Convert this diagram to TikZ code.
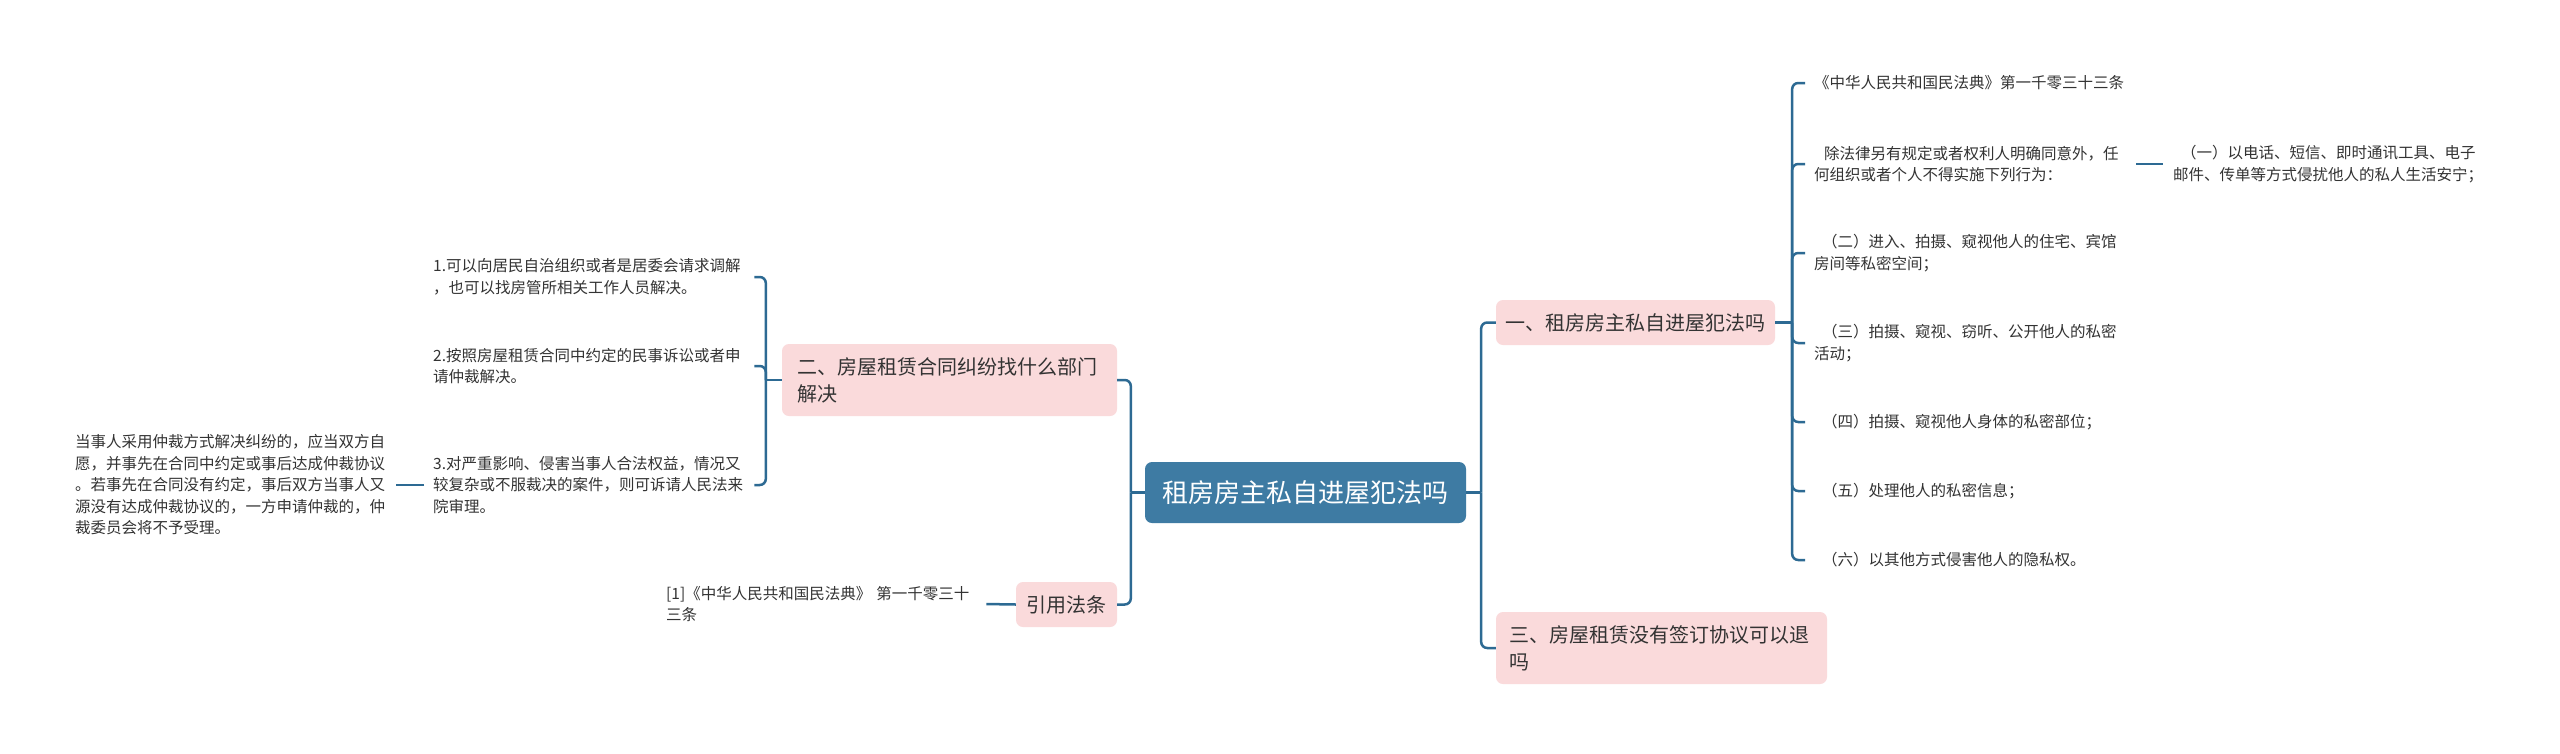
\documentclass[tikz,border=0pt]{standalone}
\usepackage{fontspec}
\setmainfont{Noto Sans CJK SC}
\definecolor{cblue}{HTML}{3E7BA3}
\definecolor{cline}{HTML}{2D6A93}
\definecolor{cpink}{HTML}{FADADB}
\definecolor{ctext}{HTML}{333333}
\begin{document}
\begin{tikzpicture}[x=1pt,y=-1pt,
  rootbox/.style={fill=cblue, rounded corners=7pt, text=white, font=\fontsize{26}{30}\selectfont, minimum width=321pt, minimum height=61pt, inner sep=0pt},
  topicbox/.style={fill=cpink, rounded corners=7pt, text=ctext, font=\fontsize{20}{27}\selectfont, inner sep=0pt, align=left},
  leafbox/.style={text=ctext, font=\fontsize{15.5}{21.5}\selectfont, text width=318pt, align=left, inner sep=0pt},
  conn/.style={draw=cline, line width=2.5pt, rounded corners=6pt}]
\useasboundingbox (0,0) rectangle (2560,753);
\fill[white] (0,0) rectangle (2560,753);

% root
\node[rootbox] (c) at (1305.5,492.5) {租房房主私自进屋犯法吗};

% right topics
\node[topicbox, minimum width=279pt, minimum height=45pt] (n1) at (1635.5,322.5) {一、租房房主私自进屋犯法吗};
\node[topicbox, text width=305pt, minimum width=331pt, minimum height=72pt] (n3) at (1661.5,648) {三、房屋租赁没有签订协议可以退\\吗};

% left topics
\node[topicbox, text width=305pt, minimum width=335pt, minimum height=72pt] (n2) at (949.5,380) {二、房屋租赁合同纠纷找什么部门\\解决};
\node[topicbox, minimum width=101pt, minimum height=45pt] (q) at (1066.5,604.5) {引用法条};

% right leaves
\node[leafbox, anchor=west] (r1) at (1814,83) {《中华人民共和国民法典》第一千零三十三条};
\node[leafbox, anchor=west] (r2) at (1814,164) {\hspace*{10pt}除法律另有规定或者权利人明确同意外，任\\何组织或者个人不得实施下列行为：};
\node[leafbox, anchor=west] (r2c) at (2173,164) {\hspace*{8pt}（一）以电话、短信、即时通讯工具、电子\\邮件、传单等方式侵扰他人的私人生活安宁；};
\node[leafbox, anchor=west] (r3) at (1814,253) {\hspace*{8pt}（二）进入、拍摄、窥视他人的住宅、宾馆\\房间等私密空间；};
\node[leafbox, anchor=west] (r4) at (1814,343) {\hspace*{8pt}（三）拍摄、窥视、窃听、公开他人的私密\\活动；};
\node[leafbox, anchor=west] (r5) at (1814,422) {\hspace*{8pt}（四）拍摄、窥视他人身体的私密部位；};
\node[leafbox, anchor=west] (r6) at (1814,491) {\hspace*{8pt}（五）处理他人的私密信息；};
\node[leafbox, anchor=west] (r7) at (1814,560) {\hspace*{8pt}（六）以其他方式侵害他人的隐私权。};

% left leaves
\node[leafbox, anchor=west] (l1) at (433,277) {1.可以向居民自治组织或者是居委会请求调解\\，也可以找房管所相关工作人员解决。};
\node[leafbox, anchor=west] (l2) at (433,366) {2.按照房屋租赁合同中约定的民事诉讼或者申\\请仲裁解决。};
\node[leafbox, anchor=west] (l3) at (433,485) {3.对严重影响、侵害当事人合法权益，情况又\\较复杂或不服裁决的案件，则可诉请人民法来\\院审理。};
\node[leafbox, anchor=west] (l3c) at (75,485) {当事人采用仲裁方式解决纠纷的，应当双方自\\愿，并事先在合同中约定或事后达成仲裁协议\\。若事先在合同没有约定，事后双方当事人又\\源没有达成仲裁协议的，一方申请仲裁的，仲\\裁委员会将不予受理。};
\node[leafbox, anchor=west] (qc) at (666,604) {[1]《中华人民共和国民法典》 第一千零三十\\三条};

% connectors: right side
\coordinate (rt) at ([xshift=15pt]c.east);
\draw[conn] (c.east) -- (rt);
\draw[conn] (rt) |- (n1.west);
\draw[conn] (rt) |- (n3.west);

\coordinate (t1) at ([xshift=17pt]n1.east);
\draw[conn] (n1.east) -- (t1);
\foreach \n in {r1,r2,r3,r4,r5,r6,r7}
  \draw[conn, shorten >=9pt] (t1) |- (\n.west);
\draw[conn, shorten <=4pt, shorten >=10pt] (r2.east) -- (r2c.west);

% connectors: left side
\coordinate (lt) at ([xshift=-14pt]c.west);
\draw[conn] (c.west) -- (lt);
\draw[conn] (lt) |- (n2.east);
\draw[conn] (lt) |- (q.east);

\coordinate (t2) at ([xshift=-16pt]n2.west);
\draw[conn] (n2.west) -- (t2);
\foreach \n in {l1,l2,l3}
  \draw[conn, shorten >=3pt] (t2) |- (\n.east);
\draw[conn, shorten <=9pt, shorten >=3pt] (l3.west) -- (l3c.east);
\draw[conn, shorten >=2pt] (q.west) -- (qc.east);
\end{tikzpicture}
\end{document}
